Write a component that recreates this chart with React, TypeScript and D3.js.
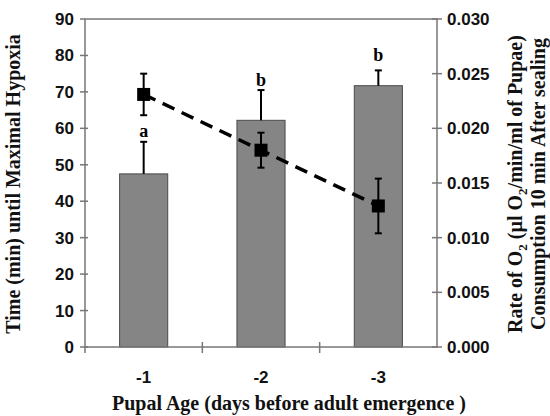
import * as d3 from "d3";
import { useEffect, useRef } from "react";

const ages = ["-1", "-2", "-3"];
const hypoxiaTime = [47.5, 62.2, 71.7];
const hypoxiaErr = [8.8, 8.3, 4.2];
const groupLetters = ["a", "b", "b"];
const letterPos = [57.6, 71.6, 78.5];
const o2Rate = [0.0231, 0.018, 0.0129];
const o2Err = [0.0019, 0.0016, 0.0025];
const leftTicks = [0, 10, 20, 30, 40, 50, 60, 70, 80, 90];
const rightTicks = [0, 0.005, 0.01, 0.015, 0.02, 0.025, 0.03];

const W = 550;
const H = 416;
const PLOT = { left: 85, right: 437, top: 19, bottom: 347 };
const AXIS = "#777";
const SANS = "'Liberation Sans', Arial, sans-serif";
const SERIF = "'Liberation Serif', 'Times New Roman', serif";

export default function App() {
  const ref = useRef<SVGSVGElement | null>(null);

  useEffect(() => {
    if (!ref.current) return;
    const svg = d3.select(ref.current);
    svg.selectAll("*").remove();

    const x = d3.scaleBand().domain(ages).range([PLOT.left, PLOT.right]).padding(0);
    const yL = d3.scaleLinear().domain([0, 90]).range([PLOT.bottom, PLOT.top]);
    const yR = d3.scaleLinear().domain([0, 0.03]).range([PLOT.bottom, PLOT.top]);
    const barW = x.bandwidth() * 0.41;
    const cx = (a: string) => (x(a) ?? 0) + x.bandwidth() / 2;

    // bars
    svg
      .append("g")
      .selectAll("rect")
      .data(ages)
      .join("rect")
      .attr("x", (a) => cx(a) - barW / 2)
      .attr("y", (_, i) => yL(hypoxiaTime[i]))
      .attr("width", barW)
      .attr("height", (_, i) => yL(0) - yL(hypoxiaTime[i]))
      .attr("fill", "#858585")
      .attr("stroke", "#4a4a4a")
      .attr("stroke-width", 1);

    // bar error bars (upper only)
    const be = svg.append("g").attr("stroke", "#000").attr("stroke-width", 2);
    ages.forEach((a, i) => {
      const top = yL(hypoxiaTime[i] + hypoxiaErr[i]);
      be.append("line").attr("x1", cx(a)).attr("x2", cx(a)).attr("y1", yL(hypoxiaTime[i])).attr("y2", top);
      be.append("line").attr("x1", cx(a) - 3.5).attr("x2", cx(a) + 3.5).attr("y1", top).attr("y2", top);
    });

    // significance letters
    svg
      .append("g")
      .selectAll("text")
      .data(groupLetters)
      .join("text")
      .attr("x", (_, i) => cx(ages[i]))
      .attr("y", (_, i) => yL(letterPos[i]))
      .attr("text-anchor", "middle")
      .attr("font-family", SERIF)
      .attr("font-weight", "bold")
      .attr("font-size", 18)
      .text((d) => d);

    // frame / axes
    const ax = svg.append("g").attr("stroke", AXIS).attr("stroke-width", 1.5).attr("fill", "none");
    ax.append("path").attr(
      "d",
      `M${PLOT.left},${PLOT.bottom}V${PLOT.top}H${PLOT.right}V${PLOT.bottom}Z`,
    );
    leftTicks.forEach((t) => {
      ax.append("line").attr("x1", PLOT.left - 5).attr("x2", PLOT.left + (t === 90 ? 0 : 3)).attr("y1", yL(t)).attr("y2", yL(t));
    });
    rightTicks.forEach((t) => {
      ax.append("line").attr("x1", PLOT.right - 5).attr("x2", PLOT.right + 5).attr("y1", yR(t)).attr("y2", yR(t));
    });
    ages.slice(1).forEach((a) => {
      const xx = x(a) ?? 0;
      ax.append("line").attr("x1", xx).attr("x2", xx).attr("y1", PLOT.bottom - 5).attr("y2", PLOT.bottom + 6);
    });
    ax.append("line").attr("x1", PLOT.left).attr("x2", PLOT.left).attr("y1", PLOT.bottom).attr("y2", PLOT.bottom + 6);

    // dashed line for O2 rate
    const line = d3
      .line<number>()
      .x((_, i) => cx(ages[i]))
      .y((d) => yR(d));
    svg
      .append("path")
      .datum(o2Rate)
      .attr("d", line)
      .attr("fill", "none")
      .attr("stroke", "#000")
      .attr("stroke-width", 3.5)
      .attr("stroke-dasharray", "13 8");

    const le = svg.append("g").attr("stroke", "#000").attr("stroke-width", 2);
    ages.forEach((a, i) => {
      const hi = yR(o2Rate[i] + o2Err[i]);
      const lo = yR(o2Rate[i] - o2Err[i]);
      le.append("line").attr("x1", cx(a)).attr("x2", cx(a)).attr("y1", lo).attr("y2", hi);
      [hi, lo].forEach((yy) =>
        le.append("line").attr("x1", cx(a) - 3.5).attr("x2", cx(a) + 3.5).attr("y1", yy).attr("y2", yy),
      );
    });
    svg
      .append("g")
      .selectAll("rect")
      .data(o2Rate)
      .join("rect")
      .attr("x", (_, i) => cx(ages[i]) - 6.5)
      .attr("y", (d) => yR(d) - 6.5)
      .attr("width", 13)
      .attr("height", 13)
      .attr("fill", "#000");

    // tick labels
    const lab = svg
      .append("g")
      .attr("font-family", SANS)
      .attr("font-weight", "bold")
      .attr("font-size", 17)
      .attr("fill", "#111");
    leftTicks.forEach((t) => {
      lab.append("text").attr("x", 74).attr("y", yL(t) + 6).attr("text-anchor", "end").text(String(t));
    });
    rightTicks.forEach((t) => {
      lab.append("text").attr("x", 447).attr("y", yR(t) + 6).text(t.toFixed(3));
    });
    ages.forEach((a) => {
      lab.append("text").attr("x", cx(a)).attr("y", 383).attr("text-anchor", "middle").text(a);
    });

    // axis titles
    const tt = svg
      .append("g")
      .attr("font-family", SERIF)
      .attr("font-weight", "bold")
      .attr("font-size", 20)
      .attr("fill", "#111")
      .attr("text-anchor", "middle");
    tt.append("text").attr("x", 289).attr("y", 410).text("Pupal Age (days before adult emergence )");
    tt.append("text")
      .attr("transform", "translate(20,184) rotate(-90)")
      .text("Time (min) until Maximal Hypoxia");

    const r1 = tt.append("text").attr("transform", "translate(522,184) rotate(-90)");
    r1.append("tspan").text("Rate of O");
    r1.append("tspan").attr("font-size", 13).attr("dy", 5).text("2");
    r1.append("tspan").attr("dy", -5).text(" (µl O");
    r1.append("tspan").attr("font-size", 13).attr("dy", 5).text("2");
    r1.append("tspan").attr("dy", -5).text("/min/ml of Pupae)");
    tt.append("text")
      .attr("transform", "translate(545,184) rotate(-90)")
      .text("Consumption 10 min After sealing");
  }, []);

  return (
    <svg
      ref={ref}
      width={W}
      height={H}
      style={{ position: "absolute", left: 0, top: 0, background: "#fff" }}
    />
  );
}
